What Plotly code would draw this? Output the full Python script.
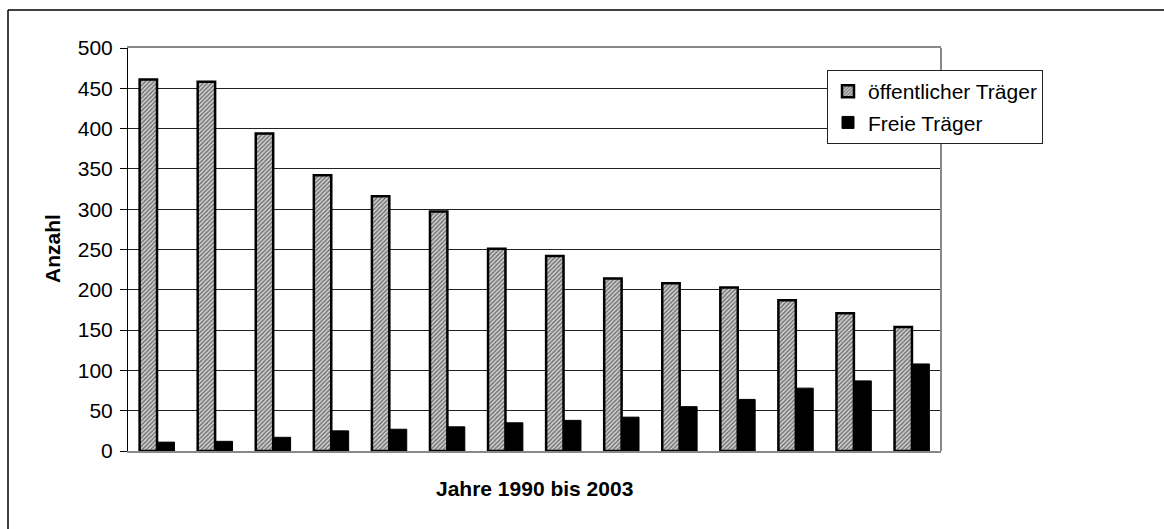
import plotly.graph_objects as go

years = [str(y) for y in range(1990, 2004)]
oeffentlich = [461, 458, 394, 342, 316, 297, 251, 242, 214, 208, 203, 187, 171, 154]
freie = [11, 12, 17, 25, 27, 30, 35, 38, 42, 55, 64, 78, 87, 108]
yticks = [0, 50, 100, 150, 200, 250, 300, 350, 400, 450, 500]

FONT = "Liberation Sans, Arial, Helvetica, sans-serif"
FS = 21

W, H = 1164, 529
L, R, T, B = 128, 941, 48, 451

fig = go.Figure()
fig.add_trace(go.Bar(
    x=years, y=oeffentlich, name="öffentlicher Träger", legendgroup="a",
    marker=dict(color="#9a9a9a", line=dict(color="black", width=2.5),
                pattern=dict(shape="/", fgcolor="#111111", bgcolor="#d4d4d4",
                             size=3, solidity=0.5)),
))
fig.add_trace(go.Bar(
    x=years, y=freie, name="Freie Träger", legendgroup="b",
    marker=dict(color="black", line=dict(color="black", width=1)),
))

def px2x(px):
    return (px - L) / (R - L)

def py2y(py):
    return (B - py) / (B - T)

fig.update_layout(
    width=W, height=H,
    margin=dict(l=L, r=W - R, t=T, b=H - B, pad=0),
    paper_bgcolor="white", plot_bgcolor="white",
    barmode="group", bargap=0.4, bargroupgap=0,
    font=dict(family=FONT, size=FS, color="black"),
    showlegend=True,
    legend=dict(x=px2x(827), y=py2y(70), xanchor="left", yanchor="top",
                bgcolor="white", bordercolor="#222222", borderwidth=1,
                font=dict(family=FONT, size=FS, color="black"),
                tracegroupgap=1, itemwidth=30),
    xaxis=dict(showticklabels=False, ticks="", showgrid=False,
               showline=True, linecolor="#888888", linewidth=2, mirror=True,
               zeroline=False),
    yaxis=dict(range=[0, 500], tickvals=yticks, ticks="outside", ticklen=7,
               tickcolor="black", tickwidth=1, ticklabelstandoff=3,
               showgrid=True, gridcolor="#222222", gridwidth=1,
               showline=True, linecolor="black", linewidth=1,
               zeroline=False,
               tickfont=dict(family=FONT, size=FS, color="black")),
    shapes=[
        dict(type="line", xref="paper", yref="paper", x0=1, x1=1, y0=0, y1=1,
             line=dict(color="#888888", width=2)),
        dict(type="line", xref="paper", yref="paper",
             x0=px2x(8), x1=px2x(8), y0=py2y(10), y1=py2y(540),
             line=dict(color="black", width=1.5)),
        dict(type="line", xref="paper", yref="paper",
             x0=px2x(8), x1=px2x(1170), y0=py2y(10), y1=py2y(10),
             line=dict(color="black", width=1.5)),
    ],
    annotations=[
        dict(text="<b>Anzahl</b>", xref="paper", yref="paper",
             x=px2x(52), y=py2y(249), textangle=-90, showarrow=False,
             xanchor="center", yanchor="middle",
             font=dict(family=FONT, size=FS, color="black")),
        dict(text="<b>Jahre 1990 bis 2003</b>", xref="paper", yref="paper",
             x=px2x(534), y=py2y(488), showarrow=False,
             xanchor="center", yanchor="middle",
             font=dict(family=FONT, size=FS, color="black")),
    ],
)

fig.write_html("out.html")
